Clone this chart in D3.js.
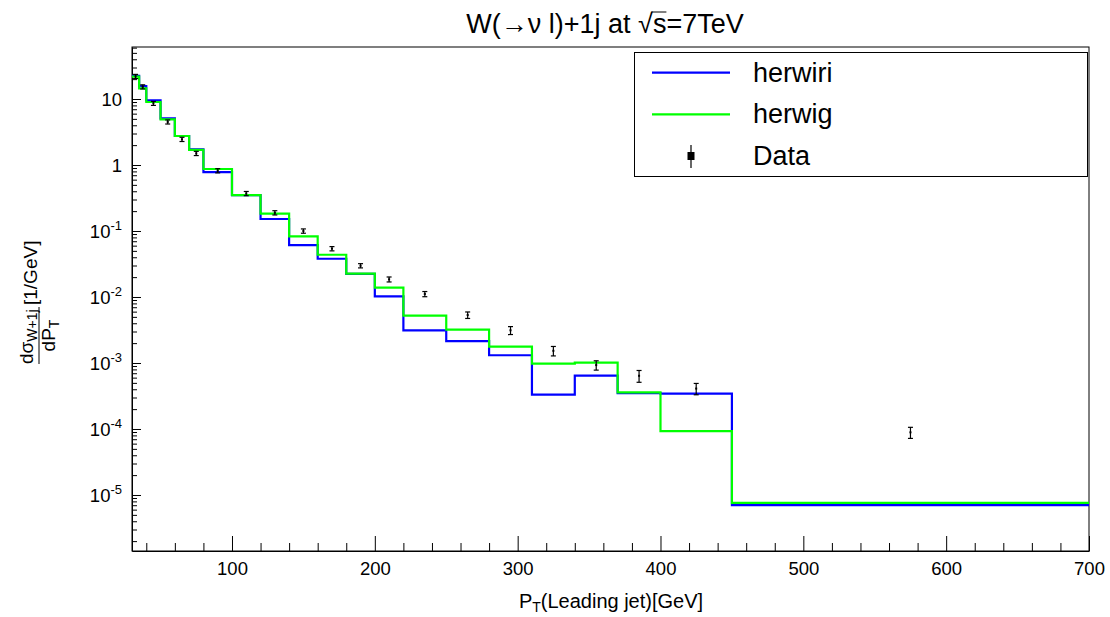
<!DOCTYPE html>
<html>
<head>
<meta charset="utf-8">
<script src="https://cdn.jsdelivr.net/npm/d3@7"></script>
<style>
  html, body { margin: 0; padding: 0; background: #fff; }
  svg { display: block; }
  text { font-family: "Liberation Sans", Arial, Helvetica, sans-serif; fill: #000; }
</style>
</head>
<body>
<svg id="chart" width="1110" height="617"></svg>
<script>
// ---------------- data ----------------
const binEdges = [30, 35, 40, 50, 60, 70, 80, 100, 120, 140, 160, 180, 200, 220, 250, 280, 310, 340, 370, 400, 450, 700];
const herwiri = [22.5, 15.7, 9.55, 5.1, 2.75, 1.73, 0.78, 0.35, 0.152, 0.061, 0.038, 0.0224, 0.01025, 0.00313, 0.00215, 0.00131, 0.000331, 0.000643, 0.000350, 0.000343, 7.0e-6];
const herwig  = [21.8, 14.5, 9.0, 4.9, 2.75, 1.69, 0.87, 0.35, 0.183, 0.083, 0.0437, 0.0226, 0.01383, 0.00521, 0.0032, 0.00177, 0.000975, 0.00101, 0.000360, 9.3e-5, 7.6e-6];
const dataX   = [32.5, 37.5, 45, 55, 65, 75, 90, 110, 130, 150, 170, 190, 210, 235, 265, 295, 325, 355, 385, 425, 575];
const dataY   = [22, 15.3, 8.6, 4.5, 2.45, 1.5, 0.82, 0.37, 0.189, 0.10, 0.054, 0.0298, 0.0185, 0.0111, 0.00533, 0.00313, 0.00153, 0.00093, 0.00064, 0.00041, 0.000089];
const dataErr = [1.6, 1.1, 0.6, 0.32, 0.18, 0.11, 0.06, 0.027, 0.014, 0.0075, 0.004, 0.0022, 0.0016, 0.001, 0.0006, 0.00043, 0.00025, 0.00015, 0.00013, 0.00008, 0.000017];
const xTickValues = [100, 200, 300, 400, 500, 600, 700];
const yTickExponents = [1, 0, -1, -2, -3, -4, -5];
const seriesNames = ["herwiri", "herwig", "Data"];
const seriesColors = ["#0000ff", "#00ff00", "#000000"];

// ---------------- layout ----------------
const L = 132, R = 1089, T = 47, B = 551;
const svg = d3.select("#chart");

const x = d3.scaleLinear().domain([30, 700]).range([L, R]);
const y = d3.scaleLog().domain([1.417e-6, 61.37]).range([B, T]);

// frame
svg.append("rect").attr("x", L).attr("y", T).attr("width", R - L).attr("height", B - T)
  .attr("fill", "none").attr("stroke", "#000").attr("stroke-width", 1);

// x axis (ticks inward)
const xMinor = d3.range(40, 701, 20).filter(v => v % 100 !== 0);
svg.append("g").attr("transform", `translate(0,${B})`)
  .call(d3.axisBottom(x).tickValues(xMinor).tickSize(-8).tickSizeOuter(0).tickFormat(""))
  .call(g => g.select(".domain").remove());
svg.append("g").attr("transform", `translate(0,${B})`)
  .call(d3.axisBottom(x).tickValues(xTickValues).tickSize(-15).tickSizeOuter(0).tickPadding(11).tickFormat(d3.format("d")))
  .call(g => g.select(".domain").attr("stroke", "#000"))
  .call(g => g.selectAll("text").style("font-size", "18.5px").attr("font-family", null));

// y axis
const yMinor = [];
for (let e = -6; e <= 1; e++) for (let m = 2; m <= 9; m++) {
  const v = m * Math.pow(10, e);
  if (v >= 1.417e-6 && v <= 61.37) yMinor.push(v);
}
svg.append("g").attr("transform", `translate(${L},0)`)
  .call(d3.axisLeft(y).tickValues(yMinor).tickSize(-5).tickSizeOuter(0).tickFormat(""))
  .call(g => g.select(".domain").remove());
const yMajor = yTickExponents.map(e => Math.pow(10, e));
const yAx = svg.append("g").attr("transform", `translate(${L},0)`)
  .call(d3.axisLeft(y).tickValues(yMajor).tickSize(-9).tickSizeOuter(0).tickPadding(10).tickFormat(""));
yAx.select(".domain").attr("stroke", "#000");
yAx.selectAll(".tick").each(function(d, i) {
  const e = yTickExponents[i];
  const t = d3.select(this).select("text").style("font-size", "18.5px").attr("dy", "0.35em").attr("x", -10);
  if (e === 1) t.text("10");
  else if (e === 0) t.text("1");
  else {
    t.append("tspan").text("10");
    t.append("tspan").text(String(e)).style("font-size", "13px").attr("dy", "-8");
  }
});

// histograms
const stepLine = d3.line().x(d => x(d[0])).y(d => y(d[1])).curve(d3.curveStepAfter);
function histPts(vals) {
  const pts = vals.map((v, i) => [binEdges[i], v]);
  pts.push([binEdges[binEdges.length - 1], vals[vals.length - 1]]);
  return pts;
}
[[herwiri, seriesColors[0]], [herwig, seriesColors[1]]].forEach(([vals, col]) => {
  svg.append("path").datum(histPts(vals)).attr("d", stepLine)
    .attr("fill", "none").attr("stroke", col).attr("stroke-width", 2.2);
});

// data points with error bars
const dg = svg.append("g").attr("stroke", "#000").attr("stroke-width", 1.2);
dataX.forEach((xv, i) => {
  const cx = x(xv), y0 = y(dataY[i] - dataErr[i]), y1 = y(dataY[i] + dataErr[i]);
  dg.append("line").attr("x1", cx).attr("x2", cx).attr("y1", y0).attr("y2", y1);
  dg.append("line").attr("x1", cx - 2.5).attr("x2", cx + 2.5).attr("y1", y0).attr("y2", y0);
  dg.append("line").attr("x1", cx - 2.5).attr("x2", cx + 2.5).attr("y1", y1).attr("y2", y1);
  svg.append("rect").attr("x", cx - 1).attr("y", y(dataY[i]) - 1).attr("width", 2).attr("height", 2).attr("fill", "#000");
});

// legend
const lg = svg.append("g");
lg.append("rect").attr("x", 634.5).attr("y", 52.5).attr("width", 453).attr("height", 124)
  .attr("fill", "#fff").attr("stroke", "#000").attr("stroke-width", 1);
const rowsY = [72.7, 114.3, 156];
seriesNames.forEach((name, i) => {
  const ry = rowsY[i];
  if (i < 2) {
    lg.append("line").attr("x1", 652).attr("x2", 730).attr("y1", ry).attr("y2", ry)
      .attr("stroke", seriesColors[i]).attr("stroke-width", 2.2);
  } else {
    lg.append("line").attr("x1", 691).attr("x2", 691).attr("y1", ry - 11).attr("y2", ry + 12)
      .attr("stroke", "#000").attr("stroke-width", 1.2);
    lg.append("rect").attr("x", 687.5).attr("y", ry - 4).attr("width", 7).attr("height", 8).attr("fill", "#000");
  }
  lg.append("text").attr("x", 753).attr("y", ry + 9).style("font-size", "27px").text(name);
});

// title
const title = svg.append("text").attr("x", 605).attr("y", 33).attr("text-anchor", "middle").style("font-size", "27px");
title.append("tspan").text("W(\u2192\u03bd l)+1j at  ");
const radT = title.append("tspan").text("\u221a");
const sT = title.append("tspan").text("s");
title.append("tspan").text("=7TeV");
{
  const rb = radT.node().getBBox();
  const sb = sT.node().getBBox();
  const yTop = rb.y + 3;
  svg.append("line").attr("x1", rb.x + rb.width - 1.5).attr("x2", sb.x + sb.width)
    .attr("y1", yTop).attr("y2", yTop).attr("stroke", "#000").attr("stroke-width", 1);
}

// x title
const xt = svg.append("text").attr("x", 611).attr("y", 608).attr("text-anchor", "middle").style("font-size", "20px");
xt.append("tspan").text("P");
xt.append("tspan").text("T").style("font-size", "14px").attr("dy", "4");
xt.append("tspan").text("(Leading jet)[GeV]").attr("dy", "-4");

// y title (rotated fraction)
const yg = svg.append("g").attr("transform", "translate(39,364) rotate(-90)");
yg.append("line").attr("x1", 0).attr("x2", 57).attr("y1", 0).attr("y2", 0).attr("stroke", "#000").attr("stroke-width", 1);
const num = yg.append("text").attr("x", 0).attr("y", -6).style("font-size", "19px");
num.append("tspan").text("d\u03c3");
num.append("tspan").text("W+1j").style("font-size", "14px").attr("dy", "4");
const den = yg.append("text").attr("x", 28.5).attr("y", 16).attr("text-anchor", "middle").style("font-size", "19px");
den.append("tspan").text("dP");
den.append("tspan").text("T").style("font-size", "14px").attr("dy", "4");
yg.append("text").attr("x", 59).attr("y", -2).style("font-size", "19px").text("[1/GeV]");
</script>
</body>
</html>
